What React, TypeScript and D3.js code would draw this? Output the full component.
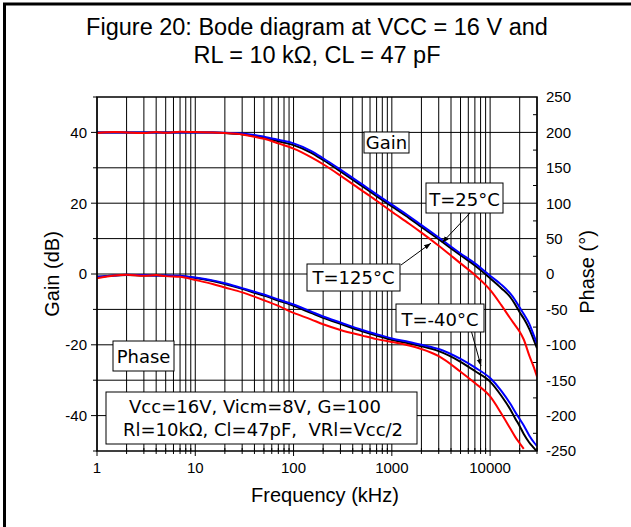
import * as d3 from "d3";

// frequency points (kHz) shared by every curve
const freqKHz = [
  1, 1.5, 2, 3, 4, 5, 7, 10, 15, 20, 30, 40, 50, 70, 100, 150, 200, 300, 500, 700,
  1000, 1500, 2000, 3000, 5000, 7000, 10000, 13000, 16000, 18000, 20000, 22000, 25000, 28000, 30000,
];

// gain (dB)
const gainM40 = [
  40, 40, 40, 40, 40, 40, 40, 40, 40, 39.9, 39.7, 39.3, 38.8, 37.9, 36.9, 34.8, 32.7, 29.5, 25.3, 22.5,
  19.6, 16.3, 13.8, 10.3, 5.8, 3.0, -0.5, -3.0, -5.5, -7.4, -9.5, -11.3, -14.0, -17.5, -19.7,
];
const gain25 = [
  40, 40, 40, 40, 40, 40, 40, 40, 40, 39.8, 39.5, 39.0, 38.5, 37.5, 36.4, 34.3, 32.2, 29.0, 24.8, 22.0,
  19.1, 15.8, 13.3, 9.8, 5.3, 2.4, -1.2, -4.0, -6.5, -8.6, -10.8, -12.6, -15.5, -18.8, -21.0,
];
const gain125 = [
  39.8, 40.1, 40.0, 39.8, 40.1, 39.9, 40.2, 40.1, 40.0, 39.8, 39.4, 38.8, 38.2, 36.9, 35.4, 33.0, 31.0, 27.8, 23.5, 20.7,
  17.6, 14.2, 11.7, 8.0, 3.0, -0.3, -4.5, -8.8, -12.5, -14.5, -16.3, -18.5, -23.0, -26.5, -29.0,
];

// phase (degrees)
const phaseM40 = [
  -4, -2, -1, -1.5, -2, -2, -2.5, -5, -9, -13, -20, -25, -29, -36, -43, -53, -60, -68.5, -79, -85,
  -91, -96, -100, -106, -120, -132, -147, -165, -183, -195, -205, -214, -228, -238, -243,
];
const phase25 = [
  -4, -2, -1.5, -2, -2, -2.5, -3, -5.5, -10, -14, -21, -26.5, -30.5, -37.5, -45, -55, -62, -70.5, -81, -87,
  -93, -98, -102, -109, -124, -137, -152, -172, -191, -204, -215, -226, -238, -246, -251,
];
const phase125 = [
  -6, -2, -1, -2.5, -1.5, -3, -4, -8.5, -14, -19, -26, -32, -37, -45, -55, -64, -71, -79, -87, -92,
  -96, -101, -106, -116, -138, -154, -173, -197, -218, -230, -239, -247, null, null, null,
];

const freqTicks = [1, 10, 100, 1000, 10000];
const freqTickLabels = ["1", "10", "100", "1000", "10000"];
const gainLabelTicks = [-40, -20, 0, 20, 40];
const phaseLabelTicks = [-250, -200, -150, -100, -50, 0, 50, 100, 150, 200, 250];

const series = [
  { name: "T=25°C", color: "#000000", gain: gain25, phase: phase25 },
  { name: "T=-40°C", color: "#0000ff", gain: gainM40, phase: phaseM40 },
  { name: "T=125°C", color: "#ff0000", gain: gain125, phase: phase125 },
];

const L = 97, R = 537, T = 97, B = 451;
const boxFont = "'DejaVu Sans', Verdana, sans-serif";

export default function App() {
  const x = d3.scaleLog().domain([1, 30000]).range([L, R]);
  const yG = d3.scaleLinear().domain([-50, 50]).range([B, T]);
  const yP = d3.scaleLinear().domain([-250, 250]).range([B, T]);

  const minorFreq = d3
    .range(0, 5)
    .flatMap((e) => d3.range(2, 10).map((k) => k * 10 ** e))
    .filter((f) => f <= 30000);

  const lineFor = (y: d3.ScaleLinear<number, number>) =>
    d3
      .line<number | null>()
      .defined((v) => v != null)
      .x((_, i) => x(freqKHz[i]))
      .y((v) => y(v as number))
      .curve(d3.curveMonotoneX);
  const gainLine = lineFor(yG);
  const phaseLine = lineFor(yP);

  // arrow annotations, targets in data units
  const arrows = [
    { from: [470, 213], to: [x(3240), yG(8.8)] },
    { from: [401, 265], to: [x(2500), yG(8.7)] },
    { from: [471, 330], to: [x(8080), yP(-130)] },
  ];

  const boxes = [
    { text: "Gain", x0: 364, y0: 132, x1: 409, y1: 153, base: 148.5 },
    { text: "T=25°C", x0: 426, y0: 183, x1: 503, y1: 213, base: 205.5 },
    { text: "T=125°C", x0: 307, y0: 264, x1: 400, y1: 291, base: 284 },
    { text: "T=-40°C", x0: 396, y0: 304, x1: 484, y1: 332, base: 326 },
    { text: "Phase", x0: 113, y0: 341, x1: 174, y1: 371, base: 363 },
  ];

  return (
    <svg
      width={631}
      height={527}
      style={{ position: "absolute", left: 0, top: 0, background: "#fff" }}
      fontFamily="'Liberation Sans', Arial, sans-serif"
    >
      <defs>
        <clipPath id="plot">
          <rect x={L} y={T} width={R - L} height={B - T} />
        </clipPath>
        <marker id="ah" viewBox="0 0 10 10" refX="10" refY="5" markerWidth="7" markerHeight="7" orient="auto">
          <path d="M0,1.5 L10,5 L0,8.5z" fill="#000" />
        </marker>
      </defs>

      {/* outer frame (right and bottom fall outside) */}
      <rect x={4.5} y={4} width={700} height={700} fill="#fff" stroke="#000" strokeWidth={3} />

      <text x={317} y={35} textAnchor="middle" fontSize={23.5}>
        Figure 20: Bode diagram at VCC = 16 V and
      </text>
      <text x={317} y={62.5} textAnchor="middle" fontSize={23.5}>
        RL = 10 kΩ, CL = 47 pF
      </text>

      {/* grid */}
      <g stroke="#000" strokeWidth={1}>
        {[...freqTicks, ...minorFreq].map((f) => (
          <line key={"v" + f} x1={x(f)} x2={x(f)} y1={T} y2={B} />
        ))}
        {d3.range(-40, 41, 10).map((g) => (
          <line key={"h" + g} x1={L} x2={R} y1={yG(g)} y2={yG(g)} />
        ))}
      </g>

      {/* ticks */}
      <g stroke="#000" strokeWidth={1}>
        {d3.range(-50, 51, 10).map((g) => (
          <line key={"lt" + g} x1={L - (g % 20 === 0 ? 6 : 4)} x2={L} y1={yG(g)} y2={yG(g)} />
        ))}
        {d3.range(-225, 250, 50).map((p) => (
          <line key={"rt" + p} x1={R - 4} x2={R} y1={yP(p)} y2={yP(p)} />
        ))}
        {freqTicks.map((f) => (
          <line key={"bt" + f} x1={x(f)} x2={x(f)} y1={B} y2={B + 5} />
        ))}
        {minorFreq.map((f) => (
          <line key={"bm" + f} x1={x(f)} x2={x(f)} y1={B - 3} y2={B + 3} />
        ))}
      </g>

      {/* curves */}
      <g clipPath="url(#plot)" fill="none" strokeWidth={2} strokeLinejoin="round">
        {series.map((s) => (
          <g key={s.name} stroke={s.color}>
            <path d={gainLine(s.gain) || ""} />
            <path d={phaseLine(s.phase) || ""} />
          </g>
        ))}
      </g>

      <rect x={L} y={T} width={R - L} height={B - T} fill="none" stroke="#000" strokeWidth={1.5} />

      {/* tick labels */}
      <g fontSize={15} fill="#000">
        {gainLabelTicks.map((g) => (
          <text key={"gl" + g} x={87} y={yG(g) + 5.3} textAnchor="end">
            {g}
          </text>
        ))}
        {phaseLabelTicks.map((p) => (
          <text key={"pl" + p} x={546} y={yP(p) + 5.3}>
            {p}
          </text>
        ))}
        {freqTicks.map((f, i) => (
          <text key={"fl" + f} x={x(f)} y={473} textAnchor="middle">
            {freqTickLabels[i]}
          </text>
        ))}
      </g>

      {/* axis titles */}
      <text transform="translate(59,274) rotate(-90)" textAnchor="middle" fontSize={20}>
        Gain (dB)
      </text>
      <text transform="translate(594,272) rotate(-90)" textAnchor="middle" fontSize={20}>
        Phase (°)
      </text>
      <text x={325} y={501.5} textAnchor="middle" fontSize={20}>
        Frequency (kHz)
      </text>

      {/* annotations */}
      {arrows.map((a, i) => (
        <line
          key={"ar" + i}
          x1={a.from[0]}
          y1={a.from[1]}
          x2={a.to[0]}
          y2={a.to[1]}
          stroke="#000"
          strokeWidth={1}
          markerEnd="url(#ah)"
        />
      ))}
      {boxes.map((b) => (
        <g key={b.text}>
          <rect x={b.x0} y={b.y0} width={b.x1 - b.x0} height={b.y1 - b.y0} fill="#fff" stroke="#000" strokeWidth={1} />
          <text x={(b.x0 + b.x1) / 2} y={b.base} textAnchor="middle" fontSize={18} fontFamily={boxFont}>
            {b.text}
          </text>
        </g>
      ))}

      <rect x={106} y={392} width={311} height={52} fill="#fff" stroke="#000" strokeWidth={1} />
      <text x={255} y={412.5} textAnchor="middle" fontSize={18} fontFamily={boxFont} style={{ whiteSpace: "pre" }}>
        Vcc=16V, Vicm=8V, G=100
      </text>
      <text x={263} y={435.5} textAnchor="middle" fontSize={18} fontFamily={boxFont} style={{ whiteSpace: "pre" }}>
        {"Rl=10kΩ, Cl=47pF,  VRl=Vcc/2"}
      </text>
    </svg>
  );
}
